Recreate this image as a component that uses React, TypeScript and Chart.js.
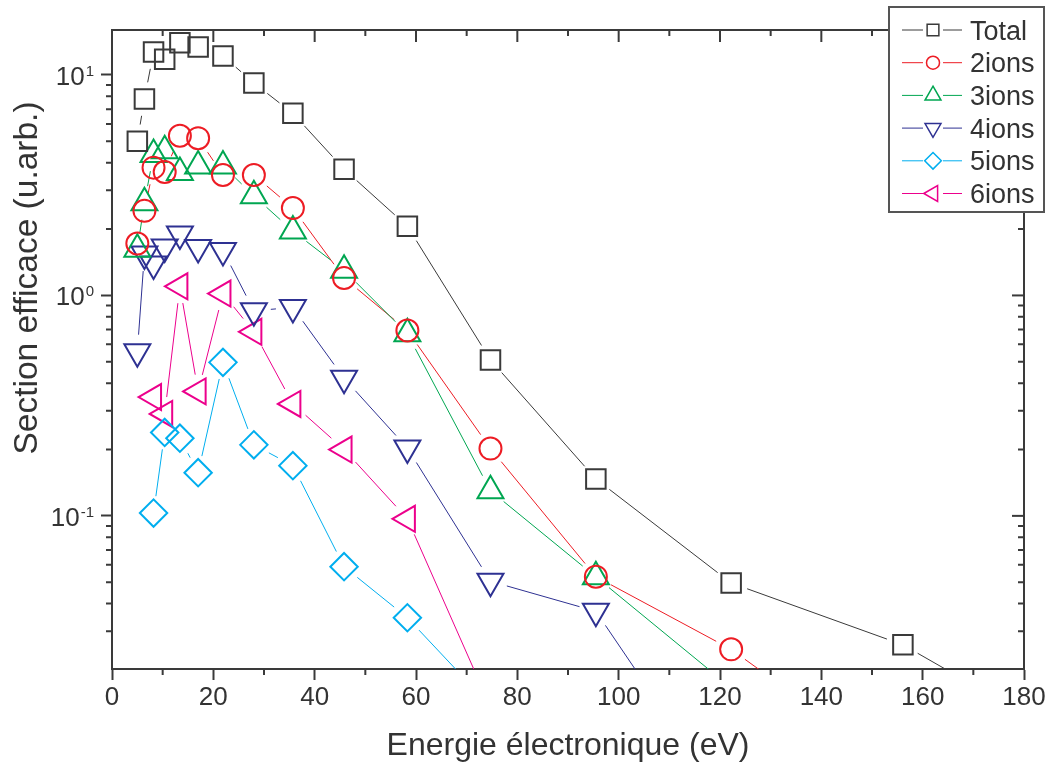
import { useEffect, useRef } from 'react';
import { Chart, registerables } from 'chart.js';

Chart.register(...registerables);

// ---------- data ----------
const energy = [5.0, 6.4, 8.2, 10.4, 13.4, 17.0, 21.9, 28.0, 35.7, 45.8, 58.3, 74.7, 95.5, 122.2, 156.1, 200];
const total = [5.0, 7.78, 12.7, 11.8, 14.0, 13.4, 12.2, 9.2, 6.7, 3.74, 2.06, 0.51, 0.147, 0.0496, 0.026, 0.0069];
const ions2 = [1.72, 2.42, 3.8, 3.63, 5.3, 5.17, 3.52, 3.52, 2.49, 1.2, 0.693, 0.202, 0.053, 0.0248, 0.0068, null];
const ions3 = [1.62, 2.63, 4.36, 4.53, 3.61, 3.87, 3.87, 2.83, 1.96, 1.3, 0.67, 0.13, 0.0529, 0.0166, null, null];
const ions4 = [0.556, 1.54, 1.39, 1.66, 1.9, 1.65, 1.6, 0.852, 0.882, 0.421, 0.203, 0.0505, 0.0369, 0.0046, null, null];
const ions5 = [null, null, 0.103, 0.239, 0.225, 0.157, 0.497, 0.21, 0.169, 0.0588, 0.0345, 0.0137, null, null, null, null];
const ions6 = [null, null, 0.346, 0.29, 1.1, 0.367, 1.02, 0.684, 0.322, 0.2, 0.097, 0.0136, null, null, null, null];

const seriesLabels = ['Total', '2ions', '3ions', '4ions', '5ions', '6ions'];
const seriesValues = [total, ions2, ions3, ions4, ions5, ions6];

const xMin = 0;
const xMax = 180;
const xStep = 20;
const yMin = 0.0202;
const yMax = 16.0;
const yDecades = [0.1, 1, 10];
const yDecadeExp = ['-1', '0', '1'];

const xTitle = 'Energie électronique (eV)';
const yTitle = 'Section efficace (u.arb.)';

// ---------- styles ----------
const colors = ['#3a3a3a', '#ed1c24', '#00a651', '#2e3192', '#00aeef', '#ec008c'];
const pointStyles = ['rect', 'circle', 'triangle', 'triangle', 'rectRot', 'triangle'];
const rotations = [0, 0, 0, 180, 0, 270];
const radii = [13.8, 11, 15, 15, 13.7, 15];
const FONT = "'Liberation Sans', Arial, Helvetica, sans-serif";
const AXIS = '#3a3a3a';
const TEXT = '#333333';
const GAP = 17;

function buildData(values: (number | null)[]) {
  const out: { x: number; y: number }[] = [];
  energy.forEach((x, i) => {
    const v = values[i];
    if (v !== null && v !== undefined) out.push({ x, y: v });
  });
  return out;
}

function drawMarker(ctx: CanvasRenderingContext2D, style: string, rot: number, x: number, y: number, r: number) {
  ctx.beginPath();
  if (style === 'rect') {
    const s = r * Math.SQRT2;
    ctx.rect(x - s / 2, y - s / 2, s, s);
  } else if (style === 'circle') {
    ctx.arc(x, y, r, 0, Math.PI * 2);
  } else if (style === 'rectRot') {
    ctx.moveTo(x, y - r);
    ctx.lineTo(x + r, y);
    ctx.lineTo(x, y + r);
    ctx.lineTo(x - r, y);
    ctx.closePath();
  } else {
    let a = (rot * Math.PI) / 180;
    for (let k = 0; k < 3; k++) {
      const px = x + Math.sin(a) * r;
      const py = y - Math.cos(a) * r;
      if (k === 0) ctx.moveTo(px, py);
      else ctx.lineTo(px, py);
      a += (2 * Math.PI) / 3;
    }
    ctx.closePath();
  }
  ctx.stroke();
}

const gapLines = {
  id: 'gapLines',
  beforeDatasetsDraw(chart: any) {
    const { ctx, chartArea: a } = chart;
    ctx.save();
    ctx.beginPath();
    ctx.rect(a.left, a.top, a.right - a.left, a.bottom - a.top);
    ctx.clip();
    chart.data.datasets.forEach((ds: any, di: number) => {
      const pts = chart.getDatasetMeta(di).data;
      ctx.strokeStyle = ds.borderColor;
      ctx.lineWidth = 1;
      for (let i = 0; i < pts.length - 1; i++) {
        const p = pts[i];
        const q = pts[i + 1];
        const dx = q.x - p.x;
        const dy = q.y - p.y;
        const d = Math.hypot(dx, dy);
        if (d <= 2 * GAP) continue;
        const ux = dx / d;
        const uy = dy / d;
        ctx.beginPath();
        ctx.moveTo(p.x + ux * GAP, p.y + uy * GAP);
        ctx.lineTo(q.x - ux * GAP, q.y - uy * GAP);
        ctx.stroke();
      }
    });
    ctx.restore();
  },
};

const decor = {
  id: 'decor',
  afterDraw(chart: any) {
    const { ctx, chartArea: a } = chart;
    const xs = chart.scales.x;
    const ys = chart.scales.y;
    ctx.save();
    ctx.strokeStyle = AXIS;
    ctx.lineWidth = 2;
    // top and right frame
    ctx.beginPath();
    ctx.moveTo(a.left - 1, a.top);
    ctx.lineTo(a.right, a.top);
    ctx.lineTo(a.right, a.bottom + 1);
    ctx.stroke();

    // x ticks: minor outward at bottom, major+minor inward at top
    for (let v = xMin; v <= xMax; v += xStep / 2) {
      const px = xs.getPixelForValue(v);
      const major = Math.abs(v % xStep) < 1e-9;
      ctx.beginPath();
      if (!major) {
        ctx.moveTo(px, a.bottom);
        ctx.lineTo(px, a.bottom + 6);
      }
      ctx.moveTo(px, a.top);
      ctx.lineTo(px, a.top + (major ? 12 : 6));
      ctx.stroke();
    }
    // y ticks
    const decs = [0.01, 0.1, 1, 10];
    decs.forEach((d) => {
      for (let m = 1; m <= 9; m++) {
        const v = m * d;
        if (v < yMin || v > yMax) continue;
        const py = ys.getPixelForValue(v);
        const major = m === 1;
        ctx.beginPath();
        if (!major) {
          ctx.moveTo(a.left, py);
          ctx.lineTo(a.left - 6, py);
        }
        ctx.moveTo(a.right, py);
        ctx.lineTo(a.right - (major ? 12 : 6), py);
        ctx.stroke();
      }
    });

    // y tick labels (10^n)
    ctx.fillStyle = TEXT;
    ctx.textBaseline = 'alphabetic';
    ctx.textAlign = 'left';
    yDecades.forEach((v, i) => {
      const py = ys.getPixelForValue(v);
      ctx.font = `26px ${FONT}`;
      const wBase = ctx.measureText('10').width;
      ctx.font = `15px ${FONT}`;
      const wSup = ctx.measureText(yDecadeExp[i]).width;
      const right = 94;
      const x0 = right - wSup - 1 - wBase;
      ctx.font = `26px ${FONT}`;
      ctx.fillText('10', x0, py + 10);
      ctx.font = `15px ${FONT}`;
      ctx.fillText(yDecadeExp[i], x0 + wBase + 1, py + 1);
    });

    // axis titles
    ctx.font = `32px ${FONT}`;
    ctx.textAlign = 'center';
    ctx.fillText(xTitle, (a.left + a.right) / 2, 755);
    ctx.save();
    ctx.translate(37, 278);
    ctx.rotate(-Math.PI / 2);
    ctx.font = `33.5px ${FONT}`;
    ctx.fillText(yTitle, 0, 0);
    ctx.restore();

    // legend
    const bx = 889, by = 7, bw = 155, bh = 205;
    ctx.fillStyle = '#ffffff';
    ctx.fillRect(bx, by, bw, bh);
    ctx.strokeStyle = '#555555';
    ctx.lineWidth = 2;
    ctx.strokeRect(bx, by, bw, bh);
    const legR = [8.3, 6.5, 9.2, 9.2, 8.3, 9.2];
    seriesLabels.forEach((lab, i) => {
      const cy = 30 + i * 32.7;
      ctx.strokeStyle = colors[i];
      ctx.lineWidth = 1;
      ctx.beginPath();
      ctx.moveTo(902, cy);
      ctx.lineTo(923, cy);
      ctx.moveTo(943, cy);
      ctx.lineTo(962, cy);
      ctx.stroke();
      ctx.lineWidth = 1.5;
      drawMarker(ctx, pointStyles[i], rotations[i], 933, cy, legR[i]);
      ctx.fillStyle = TEXT;
      ctx.font = `27px ${FONT}`;
      ctx.textAlign = 'left';
      ctx.fillText(lab, 970, cy + 9.5);
    });
    ctx.restore();
  },
};

export default function App() {
  const ref = useRef<HTMLCanvasElement>(null);
  useEffect(() => {
    const datasets = seriesLabels.map((label, i) => ({
      label,
      data: buildData(seriesValues[i]),
      showLine: false,
      borderColor: colors[i],
      backgroundColor: 'transparent',
      pointStyle: pointStyles[i],
      pointRotation: rotations[i],
      pointRadius: radii[i],
      pointBorderWidth: 2,
      pointBorderColor: colors[i],
      pointBackgroundColor: 'transparent',
    }));
    const chart = new Chart(ref.current as HTMLCanvasElement, {
      type: 'scatter',
      data: { datasets } as any,
      options: {
        animation: false,
        responsive: false,
        devicePixelRatio: 1,
        layout: { padding: { top: 30, right: 27, left: 0, bottom: 0 } },
        plugins: {
          legend: { display: false },
          tooltip: { enabled: false },
          title: { display: false },
        },
        scales: {
          x: {
            type: 'linear',
            position: 'bottom',
            min: xMin,
            max: xMax,
            afterFit: (s: any) => {
              s.height = 93;
            },
            ticks: {
              stepSize: xStep,
              color: TEXT,
              font: { family: FONT, size: 26 },
              padding: 2,
              maxRotation: 0,
              autoSkip: false,
            },
            grid: {
              drawOnChartArea: false,
              drawTicks: true,
              tickLength: 11,
              tickWidth: 2,
              tickColor: AXIS,
            },
            border: { display: true, color: AXIS, width: 2 },
          },
          y: {
            type: 'logarithmic',
            position: 'left',
            min: yMin,
            max: yMax,
            afterFit: (s: any) => {
              s.width = 112;
            },
            afterBuildTicks: (s: any) => {
              s.ticks = yDecades.map((v) => ({ value: v, major: true }));
            },
            ticks: { display: false },
            grid: {
              drawOnChartArea: false,
              drawTicks: true,
              tickLength: 11,
              tickWidth: 2,
              tickColor: AXIS,
            },
            border: { display: true, color: AXIS, width: 2 },
          },
        },
      } as any,
      plugins: [gapLines, decor],
    });
    return () => chart.destroy();
  }, []);
  return (
    <div style={{ position: 'fixed', left: 0, top: 0, width: 1051, height: 762, background: '#fff' }}>
      <canvas ref={ref} width={1051} height={762} style={{ display: 'block' }} />
    </div>
  );
}
